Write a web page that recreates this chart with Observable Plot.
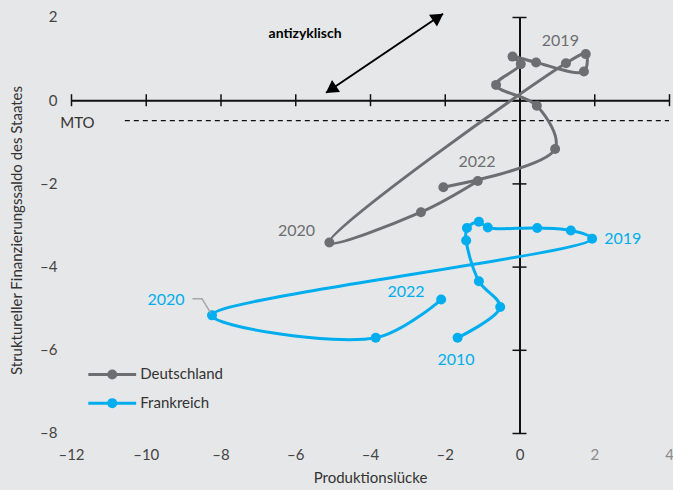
<!DOCTYPE html>
<html><head><meta charset="utf-8">
<script src="https://cdn.jsdelivr.net/npm/d3@7"></script>
<script src="https://cdn.jsdelivr.net/npm/@observablehq/plot@0.6"></script>
<style>
html,body{margin:0;padding:0;background:#e6e7e8;}
#chart{width:673px;height:490px;overflow:hidden;}
</style></head><body><div id="chart"></div>
<script>
// ---- data ----
const years = [2010, 2011, 2012, 2013, 2014, 2015, 2016, 2017, 2018, 2019, 2020, 2021, 2022];
const deOutputGap = [-2.05, 0.94, 0.45, -0.64, 0.02, -0.20, 0.43, 1.71, 1.76, 1.23, -5.10, -2.65, -1.13];
const deBalance   = [-2.08, -1.16, -0.12, 0.38, 0.88, 1.06, 0.92, 0.70, 1.12, 0.90, -3.41, -2.68, -1.93];
const frOutputGap = [-1.67, -0.53, -1.10, -1.44, -1.42, -1.10, -0.86, 0.46, 1.36, 1.93, -8.24, -3.86, -2.11];
const frBalance   = [-5.70, -4.96, -4.34, -3.36, -3.06, -2.91, -3.05, -3.06, -3.12, -3.32, -5.16, -5.70, -4.78];

const seriesNames = ["Deutschland", "Frankreich"];
const xTicks = [-12, -10, -8, -6, -4, -2, 0, 2, 4];
const yTicks = [2, 0, -2, -4, -6, -8];
const mtoValue = -0.48;
const mtoRange = [-10.56, 4];

// year annotations (value-space anchor points)
const deLabelText = ["2019", "2022", "2020"];
const deLabelX = [1.08, -1.15, -5.98];
const deLabelY = [1.44, -1.46, -3.12];
const frLabelText = ["2019", "2022", "2010", "2020"];
const frLabelX = [2.75, -3.05, -1.71, -9.47];
const frLabelY = [-3.31, -4.60, -6.22, -4.78];
const frLeaderX = [-8.75, -8.51, -8.29];
const frLeaderY = [-4.76, -4.76, -5.08];

// "antizyklisch" arrow
const arrowFrom = [-5.19, 0.19];
const arrowTo = [-2.06, 2.09];
const arrowLabel = {text: "antizyklisch", x: -5.75, y: 1.61};

// legend anchor (value space)
const legendX = [-11.55, -10.91, -10.27, -10.16];
const legendY = [-6.58, -7.27];

// ---- build ----
const GRAY = "#6d6e71", CYAN = "#00aeef";
const de = years.map((yr, i) => ({year: yr, x: deOutputGap[i], y: deBalance[i]}));
const fr = years.map((yr, i) => ({year: yr, x: frOutputGap[i], y: frBalance[i]}));
const deLab = deLabelText.map((t, i) => ({t, x: deLabelX[i], y: deLabelY[i]}));
const frLab = frLabelText.map((t, i) => ({t, x: frLabelX[i], y: frLabelY[i]}));
const leader = frLeaderX.map((x, i) => ({x, y: frLeaderY[i]}));
const fmt = d => d < 0 ? "\u2013" + Math.abs(d) : String(d);
const legend = seriesNames.map((name, i) => ({name, color: i === 0 ? GRAY : CYAN, y: legendY[i]}));

const chart = Plot.plot({
  width: 673,
  height: 490,
  marginLeft: 71,
  marginRight: 4,
  marginTop: 17,
  marginBottom: 57,
  x: {domain: [-12, 4]},
  y: {domain: [-8, 2]},
  style: {background: "#e6e7e8", fontFamily: "Lato, 'Open Sans', sans-serif", color: "#333"},
  marks: [
    Plot.axisX(xTicks.filter(v => v <= 0), {anchor: "bottom", tickSize: 0, tickPadding: 16, tickFormat: fmt, fontSize: 15, fill: "#444", label: null}),
    Plot.axisX(xTicks.filter(v => v > 0), {anchor: "bottom", tickSize: 0, tickPadding: 16, tickFormat: fmt, fontSize: 15, fill: "#8a8a8a", label: null}),
    Plot.axisY(yTicks, {anchor: "left", tickSize: 0, tickPadding: 14, tickFormat: fmt, fontSize: 15, fill: "#444", label: null}),
    Plot.text(["Produktionslücke"], {frameAnchor: "bottom", textAnchor: "middle", dy: 49, fontSize: 15, fill: "#333"}),
    Plot.text(["Struktureller Finanzierungssaldo des Staates"], {frameAnchor: "left", textAnchor: "middle", dx: -54, dy: 5, rotate: -90, fontSize: 15, fill: "#333"}),
    // crossing axes
    Plot.ruleY([0], {x1: -12, x2: 4, stroke: "#111", strokeWidth: 2}),
    Plot.ruleX([0], {y1: -8, y2: 2, stroke: "#111", strokeWidth: 2}),
    Plot.ruleX(xTicks, {x: d => d, y1: 0, y2: 0, insetTop: -6, insetBottom: -6, stroke: "#111", strokeWidth: 1.5}),
    Plot.ruleY(yTicks, {y: d => d, x1: 0, x2: 0, insetLeft: -7, insetRight: -7, stroke: "#111", strokeWidth: 1.5}),
    // MTO
    Plot.ruleY([mtoValue], {x1: mtoRange[0], x2: mtoRange[1], stroke: "#111", strokeWidth: 1.2, strokeDasharray: "5,4"}),
    Plot.text(["MTO"], {x: -12.3, y: mtoValue - 0.05, textAnchor: "start", fontSize: 15, fill: "#333"}),
    // arrow
    Plot.link([0], {x1: arrowFrom[0], y1: arrowFrom[1], x2: arrowTo[0], y2: arrowTo[1], stroke: "#000", strokeWidth: 2}),
    Plot.dot([0], {x: arrowTo[0], y: arrowTo[1], dx: -6.6, dy: 4.5, symbol: "triangle", r: 5.3, fill: "#000", stroke: "none", rotate: 56}),
    Plot.dot([0], {x: arrowFrom[0], y: arrowFrom[1], dx: 6.6, dy: -4.5, symbol: "triangle", r: 5.3, fill: "#000", stroke: "none", rotate: 236}),
    Plot.text([arrowLabel], {x: "x", y: "y", text: "text", fontSize: 14, fontWeight: "bold", fill: "#000"}),
    // series
    Plot.line(de, {x: "x", y: "y", curve: "catmull-rom", stroke: GRAY, strokeWidth: 3}),
    Plot.dot(de, {x: "x", y: "y", r: 5, fill: GRAY}),
    Plot.line(fr, {x: "x", y: "y", curve: "catmull-rom", stroke: CYAN, strokeWidth: 3}),
    Plot.dot(fr, {x: "x", y: "y", r: 5, fill: CYAN}),
    // year labels
    Plot.line(leader, {x: "x", y: "y", stroke: "#a6a6a6", strokeWidth: 1.5}),
    Plot.text(deLab, {x: "x", y: "y", text: "t", fill: GRAY, fontSize: 16}),
    Plot.text(frLab, {x: "x", y: "y", text: "t", fill: CYAN, fontSize: 16}),
    // legend
    Plot.link(legend, {x1: legendX[0], x2: legendX[2], y1: "y", y2: "y", stroke: "color", strokeWidth: 3}),
    Plot.dot(legend, {x: legendX[1], y: "y", r: 5, fill: "color"}),
    Plot.text(legend, {x: legendX[3], y: "y", text: "name", textAnchor: "start", fontSize: 15, fill: "#333"})
  ]
});
document.getElementById("chart").appendChild(chart);
</script>
</body></html>
